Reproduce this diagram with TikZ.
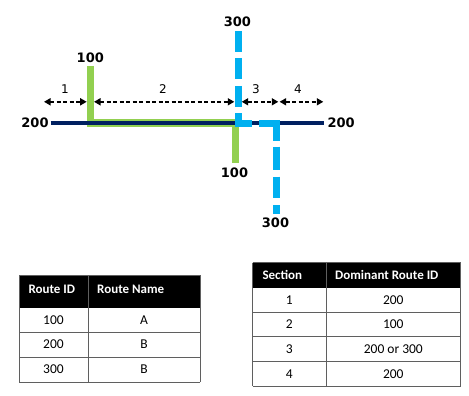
\documentclass[tikz,border=0pt]{standalone}
\usepackage{fontspec}
\setmainfont{DejaVu Sans}
\newfontfamily\tabfont{Carlito}
\usetikzlibrary{arrows.meta}
\definecolor{navyline}{HTML}{002060}
\definecolor{greenline}{HTML}{92D050}
\definecolor{blueline}{HTML}{00B0F0}
\definecolor{gridline}{HTML}{5F5F5F}
\begin{document}
\begin{tikzpicture}[x=1pt,y=-1pt,
  routelabel/.style={font=\fontsize{13}{15}\selectfont\bfseries, inner sep=0pt},
  seclabel/.style={font=\fontsize{12}{14}\selectfont, inner sep=0pt},
  secarrow/.style={line width=1.7pt, dash pattern=on 4pt off 2.5pt, {Triangle[length=6.5pt,width=7pt]}-{Triangle[length=6.5pt,width=7pt]}},
  greenroute/.style={greenline, line width=7.4pt, line join=miter},
  blueroute/.style={blueline, line width=7pt, line join=miter},
  navyroute/.style={navyline, line width=3pt},
  headtext/.style={font=\tabfont\fontsize{13}{15}\selectfont\bfseries, text=white, inner sep=0pt, anchor=west},
  celltext/.style={font=\tabfont\fontsize{13.5}{15}\selectfont, inner sep=0pt},
  grid/.style={gridline, line width=1pt}
]
\useasboundingbox (0,0) rectangle (469,396);
\fill[white] (0,0) rectangle (469,396);

% route 100 (green)
\coordinate (g1) at (90.3,66);
\coordinate (g2) at (90.3,123);
\coordinate (g3) at (235.7,123);
\coordinate (g4) at (235.7,163);
\draw[greenroute] (g1) -- (g2) -- (g3) -- (g4);

% route 200 (navy)
\coordinate (n1) at (50.7,123);
\coordinate (n2) at (324,123);
\draw[navyroute] (n1) -- (n2);

% route 300 (blue dashed)
\draw[blueroute] (238.5,31) -- (238.5,51.7);
\draw[blueroute] (238.5,58.3) -- (238.5,79.3);
\draw[blueroute] (238.5,86) -- (238.5,107.3);
\draw[blueroute] (238.5,113.3) -- (238.5,123.3) -- (251.7,123.3);
\draw[blueroute] (259,123.3) -- (276.6,123.3) -- (276.6,141);
\draw[blueroute] (276.6,146.7) -- (276.6,170);
\draw[blueroute] (276.6,176.7) -- (276.6,198.3);
\draw[blueroute] (276.6,205) -- (276.6,214.3);

% route labels
\node[routelabel] (l300t) at (237.4,21.7) {300};
\node[routelabel] (l100t) at (90.3,57.3) {100};
\node[routelabel] (l200l) at (35,123) {200};
\node[routelabel] (l200r) at (341.2,123) {200};
\node[routelabel] (l100b) at (234.5,172.3) {100};
\node[routelabel] (l300b) at (275.5,222.7) {300};

% section arrows
\coordinate (a0) at (44,101.8);
\coordinate (a1) at (86.7,101.8);
\coordinate (a2) at (94,101.8);
\coordinate (a3) at (234.3,101.8);
\coordinate (a4) at (241.7,101.8);
\coordinate (a5) at (278.3,101.8);
\coordinate (a6) at (279.6,101.8);
\coordinate (a7) at (323.3,101.8);
\draw[secarrow] (a0) -- (a1);
\draw[secarrow] (a2) -- (a3);
\draw[secarrow] (a4) -- (a5);
\draw[secarrow] (a6) -- (a7);
\node[seclabel] (s1) at (65,89) {1};
\node[seclabel] (s2) at (163,89) {2};
\node[seclabel] (s3) at (256,89) {3};
\node[seclabel] (s4) at (298,89) {4};

% left table
\fill[black] (19,275) rectangle (200,308);
\foreach \yy in {332,357,382} \draw[grid] (19,\yy) -- (200,\yy);
\draw[grid] (19,275) -- (200,275);
\foreach \xx in {19,88,200} \draw[grid] (\xx,275) -- (\xx,382);
\node[headtext] (h1) at (28.3,289.5) {Route ID};
\node[headtext] (h2) at (97,289.5) {Route Name};
\node[celltext] (c11) at (53.5,320) {100};
\node[celltext] (c12) at (144,320) {A};
\node[celltext] (c21) at (53.5,344.5) {200};
\node[celltext] (c22) at (144,344.5) {B};
\node[celltext] (c31) at (53.5,369.5) {300};
\node[celltext] (c32) at (144,369.5) {B};

% right table
\fill[black] (252.5,262.5) rectangle (460.5,287.5);
\foreach \yy in {312.3,336.8,361.5,386} \draw[grid] (252.5,\yy) -- (460.5,\yy);
\draw[grid] (252.5,262.5) -- (460.5,262.5);
\foreach \xx in {252.5,326,460.5} \draw[grid] (\xx,262.5) -- (\xx,386);
\node[headtext] (h3) at (262.3,275) {Section};
\node[headtext] (h4) at (335,275) {Dominant Route ID};
\node[celltext] (d11) at (289.3,300) {1};
\node[celltext] (d12) at (393.3,300) {200};
\node[celltext] (d21) at (289.3,324.5) {2};
\node[celltext] (d22) at (393.3,324.5) {100};
\node[celltext] (d31) at (289.3,349) {3};
\node[celltext] (d32) at (393.3,349) {200 or 300};
\node[celltext] (d41) at (289.3,374) {4};
\node[celltext] (d42) at (393.3,374) {200};
\end{tikzpicture}
\end{document}
